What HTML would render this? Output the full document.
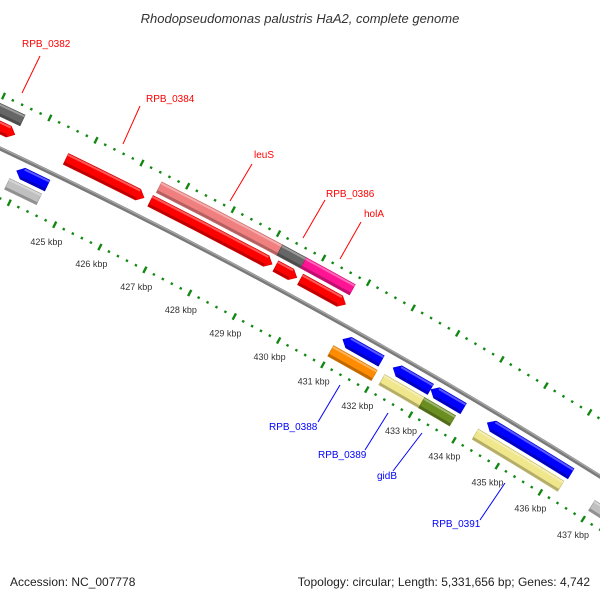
<!DOCTYPE html>
<html><head><meta charset="utf-8"><style>
html,body{margin:0;padding:0;background:#fff;}
svg{display:block;font-family:"Liberation Sans","DejaVu Sans",sans-serif;}
</style></head><body>
<svg id="map" width="600" height="600" viewBox="0 0 600 600" xmlns="http://www.w3.org/2000/svg">
<rect x="0" y="0" width="600" height="600" fill="#fff"/>
<text x="300" y="23" text-anchor="middle" font-size="13" font-style="italic" fill="#333">Rhodopseudomonas palustris HaA2, complete genome</text>
<g id="marks"></g>
<g id="labels" font-size="10">
<g><line x1="40" y1="56" x2="22" y2="93" stroke="#f00" stroke-width="1"/><text x="22" y="47" fill="#f00">RPB_0382</text></g>
<g><line x1="140" y1="106" x2="123" y2="144" stroke="#f00" stroke-width="1"/><text x="146" y="102" fill="#f00">RPB_0384</text></g>
<g><line x1="252" y1="164" x2="230" y2="201" stroke="#f00" stroke-width="1"/><text x="254" y="158" fill="#f00">leuS</text></g>
<g><line x1="325" y1="200" x2="303" y2="238" stroke="#f00" stroke-width="1"/><text x="326" y="197" fill="#f00">RPB_0386</text></g>
<g><line x1="361" y1="222" x2="340" y2="259" stroke="#f00" stroke-width="1"/><text x="364" y="217" fill="#f00">holA</text></g>
<g><line x1="318" y1="422" x2="340" y2="385" stroke="#00f" stroke-width="1"/><text x="269" y="430" fill="#00f">RPB_0388</text></g>
<g><line x1="365" y1="450" x2="388" y2="413" stroke="#00f" stroke-width="1"/><text x="318" y="458" fill="#00f">RPB_0389</text></g>
<g><line x1="393" y1="471" x2="422" y2="433" stroke="#00f" stroke-width="1"/><text x="377" y="479" fill="#00f">gidB</text></g>
<g><line x1="480" y1="520" x2="505" y2="483" stroke="#00f" stroke-width="1"/><text x="432" y="527" fill="#00f">RPB_0391</text></g>
</g>
<text x="10" y="586" font-size="12" fill="#222">Accession: NC_007778</text>
<text x="590" y="586" font-size="12" fill="#222" text-anchor="end">Topology: circular; Length: 5,331,656 bp; Genes: 4,742</text>
</svg>
<script>
// data
const featStart = [421.5, 424.63, 426.48, 429.25, 429.8, 421.5, 426.51, 429.17, 429.7, 423.86, 431.1, 432.24, 433.1, 434.39, 437.2, 423.8, 431.0, 432.16, 433.07, 434.3, 437.0];
const featEnd   = [423.52, 426.34, 429.17, 429.72, 430.81, 423.54, 429.17, 429.7, 430.79, 424.53, 431.97, 433.09, 433.84, 436.32, 439, 424.5, 431.99, 433.07, 433.78, 436.28, 439];
const featSlot  = [1,1,1,1,1, 2,2,2,2, -1,-1,-1,-1,-1,-1, -2,-2,-2,-2,-2,-2];
const featColor = ["#ff0000","#ff0000","#ff0000","#ff0000","#ff0000","#666666","#f08080","#666666","#ff1493","#0000ff","#0000ff","#0000ff","#0000ff","#0000ff","#0000ff","#c0c0c0","#ff8c00","#f0e68c","#6b8e23","#f0e68c","#c0c0c0"];
const featArrow = [1,1,1,1,1, 0,0,0,0, 1,1,1,1,1,1, 0,0,0,0,0,0];
const tickLabels = [425,426,427,428,429,430,431,432,433,434,435,436,437];

// geometry
const CX=-2445, CY=5334, RB=5733;
const SLOT_R = {"1":5752,"2":5768,"-1":5720,"-2":5704};
function ang(k){return (-63.93+0.508*(k-425))*Math.PI/180;}
function pt(k,r){const a=ang(k);return [CX+r*Math.cos(a),CY+r*Math.sin(a)];}
const NS="http://www.w3.org/2000/svg";
const g=document.getElementById('marks');
function mk(tag,attrs){const e=document.createElementNS(NS,tag);for(const k in attrs)e.setAttribute(k,attrs[k]);g.appendChild(e);return e;}
function f(p){return p[0].toFixed(2)+","+p[1].toFixed(2);}

// backbone
{
 const a=pt(420,RB), b=pt(440,RB);
 const bb=mk('path',{d:`M${f(a)} A${RB},${RB} 0 0 1 ${f(b)}`,fill:'none',stroke:'#7a7a7a','stroke-width':4});
 
 
 const a2=pt(420,RB+1), b2=pt(440,RB+1);
 const hl=mk('path',{d:`M${f(a2)} A${RB},${RB} 0 0 1 ${f(b2)}`,fill:'none',stroke:'#a8a8a8','stroke-width':1.2});
 
 
}

// tick rings
function ring(r, name){
 for(let i=0;i<=100;i++){
  const k=420+i*0.2;
  const major = (i%5===0);
  const h = major?3.5:1.2;
  const p1=pt(k,r-h), p2=pt(k,r+h);
  const t=mk('line',{x1:p1[0],y1:p1[1],x2:p2[0],y2:p2[1],stroke:'#128812','stroke-width':2.4});
  
  
 }
}
ring(5782,'outer-ring');
ring(5688,'inner-ring');

// tick labels
tickLabels.forEach(k=>{
 const p=pt(k,5669);
 const t=mk('text',{x:p[0],y:p[1]+3,'text-anchor':'middle','font-size':'9',fill:'#333'});
 t.textContent=k+' kbp';
 
 
});

// features
function shade(hex,fct){const n=parseInt(hex.slice(1),16);let r=n>>16,gg=(n>>8)&255,b=n&255;
 if(fct<1){r*=fct;gg*=fct;b*=fct;}else{const q=fct-1;r+=(255-r)*q;gg+=(255-gg)*q;b+=(255-b)*q;}
 return `rgb(${r|0},${gg|0},${b|0})`;}
for(let i=0;i<featStart.length;i++){
 const s=featStart[i], e=featEnd[i], slot=featSlot[i], r=SLOT_R[String(slot)], h=6;
 const fwd=slot>0, arrow=featArrow[i];
 const al=0.13;
 let d;
 if(arrow && fwd){
  const e2=Math.max(s,e-al);
  d=`M${f(pt(s,r+h))} A${r+h},${r+h} 0 0 1 ${f(pt(e2,r+h))} L${f(pt(e,r))} L${f(pt(e2,r-h))} A${r-h},${r-h} 0 0 0 ${f(pt(s,r-h))} Z`;
 } else if(arrow && !fwd){
  const s2=Math.min(e,s+al);
  d=`M${f(pt(s,r))} L${f(pt(s2,r+h))} A${r+h},${r+h} 0 0 1 ${f(pt(e,r+h))} L${f(pt(e,r-h))} A${r-h},${r-h} 0 0 0 ${f(pt(s2,r-h))} Z`;
 } else {
  d=`M${f(pt(s,r+h))} A${r+h},${r+h} 0 0 1 ${f(pt(e,r+h))} L${f(pt(e,r-h))} A${r-h},${r-h} 0 0 0 ${f(pt(s,r-h))} Z`;
 }
 const p=mk('path',{d:d,fill:featColor[i],stroke:shade(featColor[i],0.8),'stroke-width':0.6});
 
 
 // 3D highlight / shadow
 const s3=arrow&&!fwd?s+al:s, e3=arrow&&fwd?e-al:e;
 const hl=mk('path',{d:`M${f(pt(s3,r+h-1.5))} A${r+h},${r+h} 0 0 1 ${f(pt(e3,r+h-1.5))}`,fill:'none',stroke:shade(featColor[i],1.35),'stroke-width':2});
 
 
 const sh=mk('path',{d:`M${f(pt(s3,r-h+1.5))} A${r-h},${r-h} 0 0 1 ${f(pt(e3,r-h+1.5))}`,fill:'none',stroke:shade(featColor[i],0.75),'stroke-width':2.5});
 
 
}
</script>
</body></html>
